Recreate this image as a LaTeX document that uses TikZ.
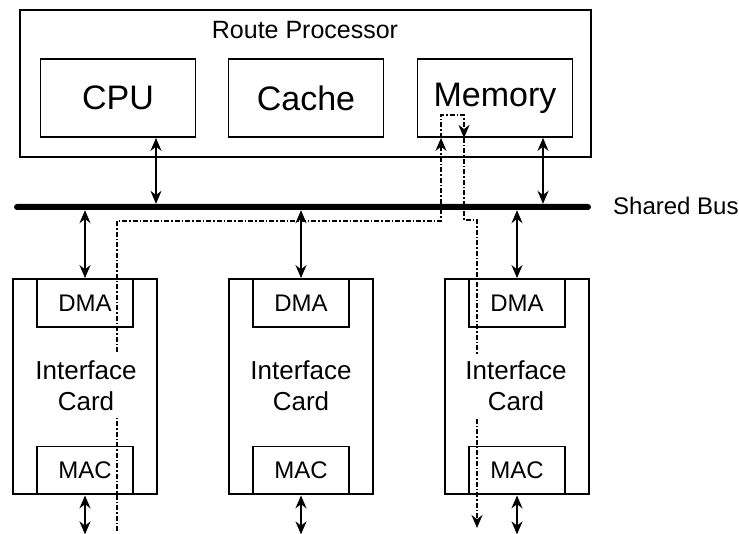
\documentclass[tikz,border=0pt]{standalone}
\usepackage{fontspec}
\setmainfont{Liberation Sans}
\usetikzlibrary{arrows.meta}
\begin{document}
\begin{tikzpicture}[x=1pt,y=-1pt,
  rpbox/.style={draw,line width=1.8pt,minimum width=571pt,minimum height=147pt,inner sep=0pt},
  unit/.style={draw,line width=1.8pt,minimum width=155pt,minimum height=78pt,inner sep=0pt,font=\fontsize{34}{40}\selectfont},
  card/.style={draw,line width=1.8pt,minimum width=144pt,minimum height=215pt,inner sep=0pt},
  sub/.style={draw,line width=1.8pt,minimum width=96pt,minimum height=48pt,inner sep=0pt,font=\fontsize{24}{28}\selectfont},
  cardtext/.style={fill=white,align=center,inner sep=7pt,font=\fontsize{26}{31}\selectfont},
  label/.style={inner sep=0pt,font=\fontsize{25}{30}\selectfont},
  dbl/.style={line width=1.8pt,{Stealth[length=13pt,width=11pt]}-{Stealth[length=13pt,width=11pt]}},
  flow/.style={line width=1.8pt,dash pattern=on 5pt off 2pt on 1.5pt off 2pt},
  tipend/.style={-{Stealth[length=13pt,width=11pt]}}
]
\useasboundingbox (0,0) rectangle (739,534);

% Route processor
\node[rpbox] (rp) at (305.5,83.5) {};
\node[label,anchor=base] (rptitle) at (305,39) {Route Processor};
\node[unit] (cpu) at (118,98) {CPU};
\node[unit] (cache) at (306,98) {Cache};
\node[unit] (mem) at (495,98) {Memory};

% Shared bus
\node[fill=black,minimum width=577pt,minimum height=6pt,inner sep=0pt,rounded corners=3pt] (bus) at (302.5,207) {};
\node[label,anchor=base west,font=\fontsize{24}{28}\selectfont] (buslabel) at (613,215) {Shared Bus};

% Cards
\foreach \n/\x in {L/85,M/301,R/517}{
  \node[card] (card\n) at (\x,386.5) {};
  \node[sub] (dma\n) at (\x,303) {DMA};
  \node[sub] (mac\n) at (\x,470.5) {MAC};
  \draw[dbl] (bus.south -| dma\n.north) -- (dma\n.north);
  \draw[dbl] (mac\n.south) -- ++(0,39);
}

% RP to bus
\draw[dbl] ([xshift=38pt]cpu.south) -- ([xshift=38pt]cpu.south |- bus.north);
\draw[dbl] ([xshift=48pt]mem.south) -- ([xshift=48pt]mem.south |- bus.north);

% Data flow paths
\coordinate (f1s) at (117,531);
\coordinate (f1t) at ([xshift=-54pt]mem.south);
\coordinate (f2t) at ([xshift=-31pt]mem.south);
\coordinate (h1) at (0,221);
\coordinate (h2) at (0,115);
\coordinate (h3) at (0,220);
\coordinate (f3e) at (477,528);
\draw[flow,tipend] (f1s) -- (f1s |- h1) -| (f1t);
\draw[flow,tipend] (f1t) -- (f1t |- h2) -| (f2t);
\draw[flow,tipend] (f2t) -- (f2t |- h3) -| (f3e);

% Card labels
\node[cardtext] (txtL) at (86,386) {Interface\\Card};
\node[cardtext] (txtM) at (301,386) {Interface\\Card};
\node[cardtext] (txtR) at (516,386) {Interface\\Card};
\end{tikzpicture}
\end{document}
